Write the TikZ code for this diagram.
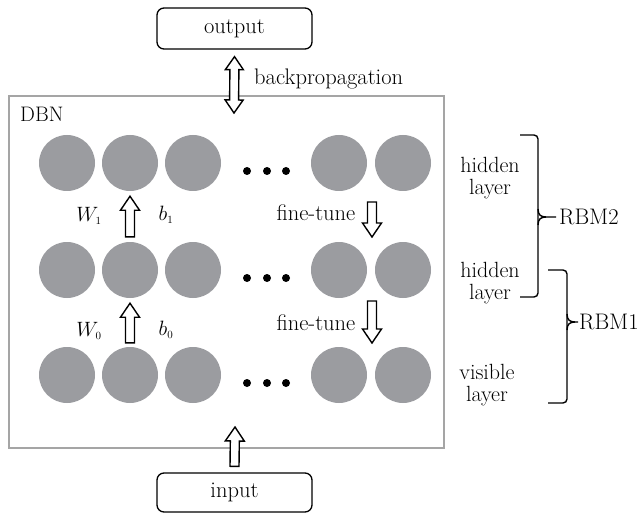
\documentclass[tikz,border=0pt]{standalone}
\usetikzlibrary{calc}
\definecolor{neuron}{RGB}{155,156,160}
\definecolor{frame}{RGB}{165,165,165}
\newcommand{\labelfont}{\fontsize{22.5}{20}\selectfont}
\tikzset{
  unit/.style={circle, fill=neuron, minimum size=56pt, inner sep=0pt},
  dotmark/.style={circle, fill=black, minimum size=8pt, inner sep=0pt},
  iobox/.style={draw, line width=1.3pt, rounded corners=7pt, inner sep=0pt,
    minimum width=155pt, font=\labelfont},
  lbl/.style={inner sep=0pt, font=\labelfont},
  sidelbl/.style={inner sep=0pt, align=center, font=\fontsize{22}{22.5}\selectfont},
  blk/.style={draw, line width=1.4pt, fill=white, line join=miter},
  bracket/.style={draw, line width=1.4pt, rounded corners=4pt},
}
% hollow block arrow from #1 (tail) to #2 (tip)
\newcommand{\blockarrow}[2]{%
  \path ($(#2)!14pt!(#1)$) coordinate (hb);
  \draw[blk] ($(#1)!4.5pt!90:(#2)$) -- ($(hb)!4.5pt!90:(#2)$) -- ($(hb)!9.5pt!90:(#2)$)
    -- (#2) -- ($(hb)!9.5pt!-90:(#2)$) -- ($(hb)!4.5pt!-90:(#2)$)
    -- ($(#1)!4.5pt!-90:(#2)$) -- cycle;}
% hollow block arrow with heads at both ends
\newcommand{\twinarrow}[2]{%
  \path ($(#2)!13pt!(#1)$) coordinate (hb) ($(#1)!13pt!(#2)$) coordinate (ha);
  \draw[blk] (#1) -- ($(ha)!9pt!90:(#2)$) -- ($(ha)!4.5pt!90:(#2)$)
    -- ($(hb)!4.5pt!90:(#2)$) -- ($(hb)!9pt!90:(#2)$) -- (#2)
    -- ($(hb)!9pt!-90:(#2)$) -- ($(hb)!4.5pt!-90:(#2)$)
    -- ($(ha)!4.5pt!-90:(#2)$) -- ($(ha)!9pt!-90:(#2)$) -- cycle;}
\begin{document}
\begin{tikzpicture}[x=1pt, y=-1pt]
\useasboundingbox (0,0) rectangle (642,513);

% DBN frame
\node[draw=frame, line width=1.1pt, minimum width=435pt, minimum height=352pt,
  inner sep=0pt] (dbn) at (226.5,272) {};
\node[lbl, anchor=west, font=\fontsize{21}{21}\selectfont] (dbnlbl) at (20,114) {DBN};

% input / output boxes
\node[iobox, minimum height=41pt] (output) at (234.5,28.5) {output};
\node[iobox, minimum height=39pt] (input) at (234.5,492.5) {input};

% three layers of units
\foreach \row/\y in {top/163, mid/270, bot/375}{
  \foreach \i/\x in {1/67, 2/130, 3/193, 4/339, 5/403}
    \node[unit] (\row-\i) at (\x,\y) {};
  \foreach \j/\x in {1/247, 2/267, 3/286}
    \node[dotmark] (\row-d\j) at (\x,\y+8) {};
}

% backpropagation link
\coordinate (bpend) at (234,113);
\twinarrow{$(output.south)+(0,7)$}{bpend}
\node[lbl, anchor=west] (bp) at (254,79) {backpropagation};

% pre-training arrows
\blockarrow{$(mid-2.north)+(0,-5)$}{$(top-2.south)+(0,5)$}
\blockarrow{$(bot-2.north)+(0,-4)$}{$(mid-2.south)+(0,5)$}
\node[lbl] (w1) at (89,216) {$W_{\scriptscriptstyle 1}$};
\node[lbl] (b1) at (166,215) {$b_{\scriptscriptstyle 1}$};
\node[lbl] (w0) at (89,331) {$W_{\scriptscriptstyle 0}$};
\node[lbl] (b0) at (166,330) {$b_{\scriptscriptstyle 0}$};

% fine-tuning arrows
\coordinate (ft1a) at (372,202);
\coordinate (ft1b) at (372,237);
\coordinate (ft2a) at (372,301);
\coordinate (ft2b) at (372,343);
\blockarrow{ft1a}{ft1b}
\blockarrow{ft2a}{ft2b}
\node[lbl] (ft1) at (316,213) {fine-tune};
\node[lbl] (ft2) at (316,323) {fine-tune};

% input arrow
\coordinate (inend) at (235,427);
\blockarrow{$(input.north)+(0,-6)$}{inend}

% layer names
\node[sidelbl] (l2) at (490,178) {hidden\\layer};
\node[sidelbl] (l1) at (490,283) {hidden\\layer};
\node[sidelbl] (l0) at (487,385) {visible\\layer};

% RBM brackets
\draw[bracket] (520,135) -- (538,135) -- (538,297) -- (520,297);
\draw[line width=1.4pt] (538,209) .. controls (538,215) and (541,217) .. (546,217) -- (556,217);
\draw[line width=1.4pt] (538,225) .. controls (538,219) and (541,217) .. (546,217);
\node[lbl, anchor=west] (rbm2) at (559,217) {RBM2};

\draw[bracket] (548,270) -- (567,270) -- (567,403) -- (548,403);
\draw[line width=1.4pt] (567,314) .. controls (567,320) and (570,322) .. (575,322) -- (578,322);
\draw[line width=1.4pt] (567,330) .. controls (567,324) and (570,322) .. (575,322);
\node[lbl, anchor=west] (rbm1) at (579,322) {RBM1};
\end{tikzpicture}
\end{document}
